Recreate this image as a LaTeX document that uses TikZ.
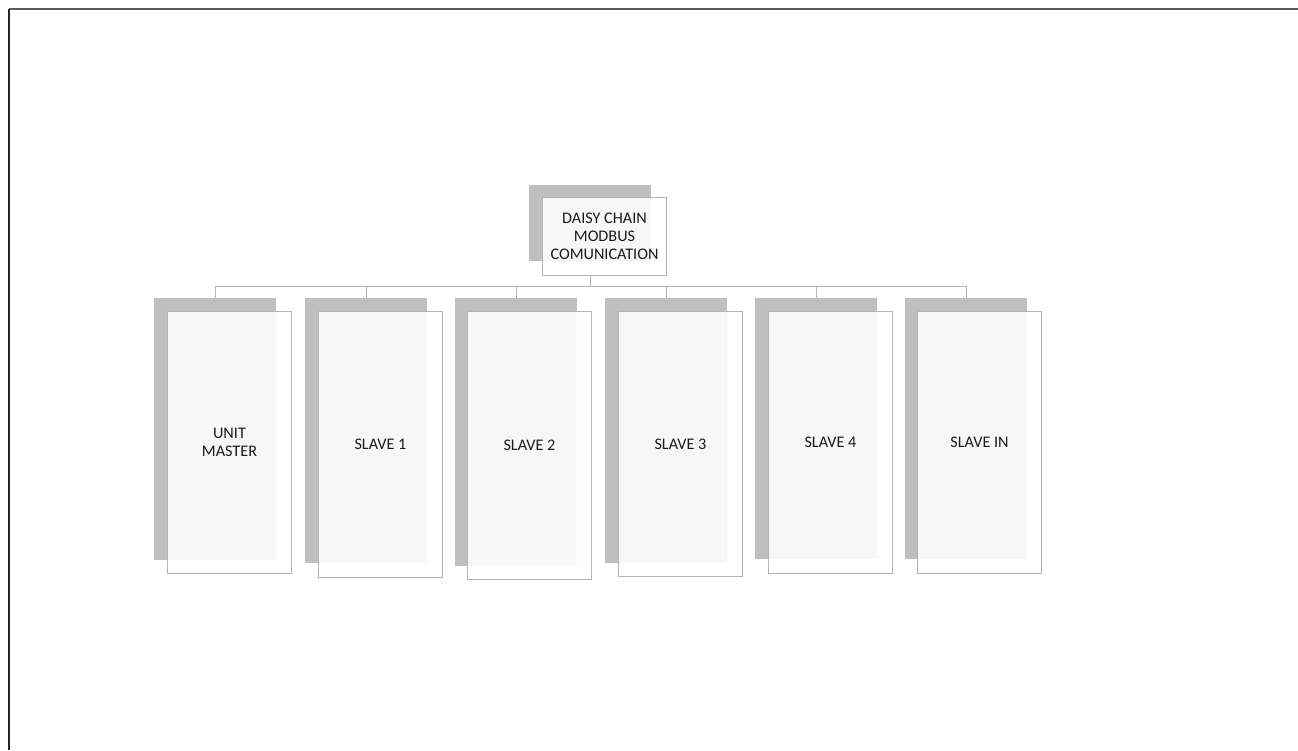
\documentclass[tikz,border=0pt]{standalone}
\usepackage{fontspec}
\setmainfont{Carlito}
\definecolor{backgray}{HTML}{BFBFBF}
\definecolor{edgegray}{HTML}{B4B4B4}
\definecolor{txt}{HTML}{1A1A1A}
\begin{document}
\begin{tikzpicture}[x=1pt,y=-1pt,
  backbox/.style={draw=none,fill=backgray,anchor=north west,minimum width=122pt,inner sep=0pt},
  frontbox/.style={draw=edgegray,line width=1pt,fill=white,fill opacity=0.88,text opacity=1,
    anchor=north west,minimum width=124pt,inner sep=0pt,align=center,text=txt,
    font=\fontsize{16.2}{18}\selectfont},
  conn/.style={draw=edgegray,line width=1pt}]
\useasboundingbox (0,0) rectangle (1298,750);
\fill[white] (0,0) rectangle (1298,750);
% page frame (only top and left visible)
\draw[line width=1.4pt,color=black!65] (9,9) -- (1298,9);
\draw[line width=1.4pt,color=black!85] (9,9) -- (9,750);
% top node
\node[backbox,minimum height=76pt] (tb) at (529,185) {};
\node[frontbox,minimum height=78pt] (tf) at (542,197) {DAISY CHAIN\\MODBUS\\COMUNICATION};
% children backs
\node[backbox,minimum height=262pt] (b1) at (154,298) {};
\node[backbox,minimum height=265pt] (b2) at (305,298) {};
\node[backbox,minimum height=268pt] (b3) at (455,298) {};
\node[backbox,minimum height=265pt] (b4) at (605,298) {};
\node[backbox,minimum height=261pt] (b5) at (755,298) {};
\node[backbox,minimum height=261pt] (b6) at (905,298) {};
% children fronts
\node[frontbox,minimum height=262pt] (f1) at (167,311) {UNIT\\MASTER};
\node[frontbox,minimum height=266pt] (f2) at (318,311) {SLAVE 1};
\node[frontbox,minimum height=268pt] (f3) at (467,311) {SLAVE 2};
\node[frontbox,minimum height=265pt] (f4) at (618,311) {SLAVE 3};
\node[frontbox,minimum height=262pt] (f5) at (768,311) {SLAVE 4};
\node[frontbox,minimum height=262pt] (f6) at (917,311) {SLAVE IN};
% connectors
\coordinate (busy) at (0,286);
\draw[conn] (tb.south |- tf.south) -- (tb.south |- busy);
\draw[conn] (b1.north |- busy) -- (b6.north |- busy);
\foreach \i in {1,...,6}{\draw[conn] (b\i.north |- busy) -- (b\i.north);}
\end{tikzpicture}
\end{document}
